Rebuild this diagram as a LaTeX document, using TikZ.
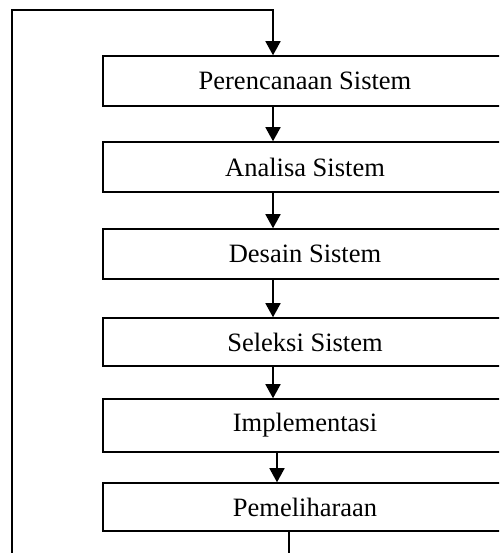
\documentclass[tikz,border=0pt]{standalone}
\usepackage{fontspec}
\setmainfont{Liberation Serif}
\usetikzlibrary{arrows.meta}
\begin{document}
\begin{tikzpicture}[x=1pt,y=1pt,
  stage/.style={draw, line width=1.5pt, minimum width=404pt, inner sep=0pt,
    font=\fontsize{26.5}{30}\selectfont, anchor=center},
  flow/.style={line width=1.5pt, -{Triangle[length=14pt,width=15pt]}},
  plain/.style={line width=1.5pt}]
\useasboundingbox (0,0) rectangle (499,553);
\begin{scope}
\clip (0,0) rectangle (499,553);
\node[stage, minimum height=50pt] (b1) at (305,472) {Perencanaan Sistem};
\node[stage, minimum height=50pt] (b2) at (305,386) {Analisa Sistem};
\node[stage, minimum height=50pt] (b3) at (305,299) {Desain Sistem};
\node[stage, minimum height=48pt] (b4) at (305,211) {Seleksi Sistem};
\node[stage, minimum height=53pt] (b5) at (305,127.5) {Implementasi};
\node[stage, minimum height=48pt] (b6) at (305,46) {Pemeliharaan};
\coordinate (ca) at (273,0);
\coordinate (cb) at (277,0);
\coordinate (cc) at (289,0);
\coordinate (tl) at (12,543);
\coordinate (bl) at (12,0);
\coordinate (tr) at (273,543);
\coordinate (be) at (289,0);
\draw[flow] (b1.south -| ca) -- (b2.north -| ca);
\draw[flow] (b2.south -| ca) -- (b3.north -| ca);
\draw[flow] (b3.south -| ca) -- (b4.north -| ca);
\draw[flow] (b4.south -| ca) -- (b5.north -| ca);
\draw[flow] (b5.south -| cb) -- (b6.north -| cb);
\draw[plain] (b6.south -| cc) -- (be);
\draw[flow] (bl) -- (tl) -- (tr) -- (b1.north -| tr);
\end{scope}
\end{tikzpicture}
\end{document}
